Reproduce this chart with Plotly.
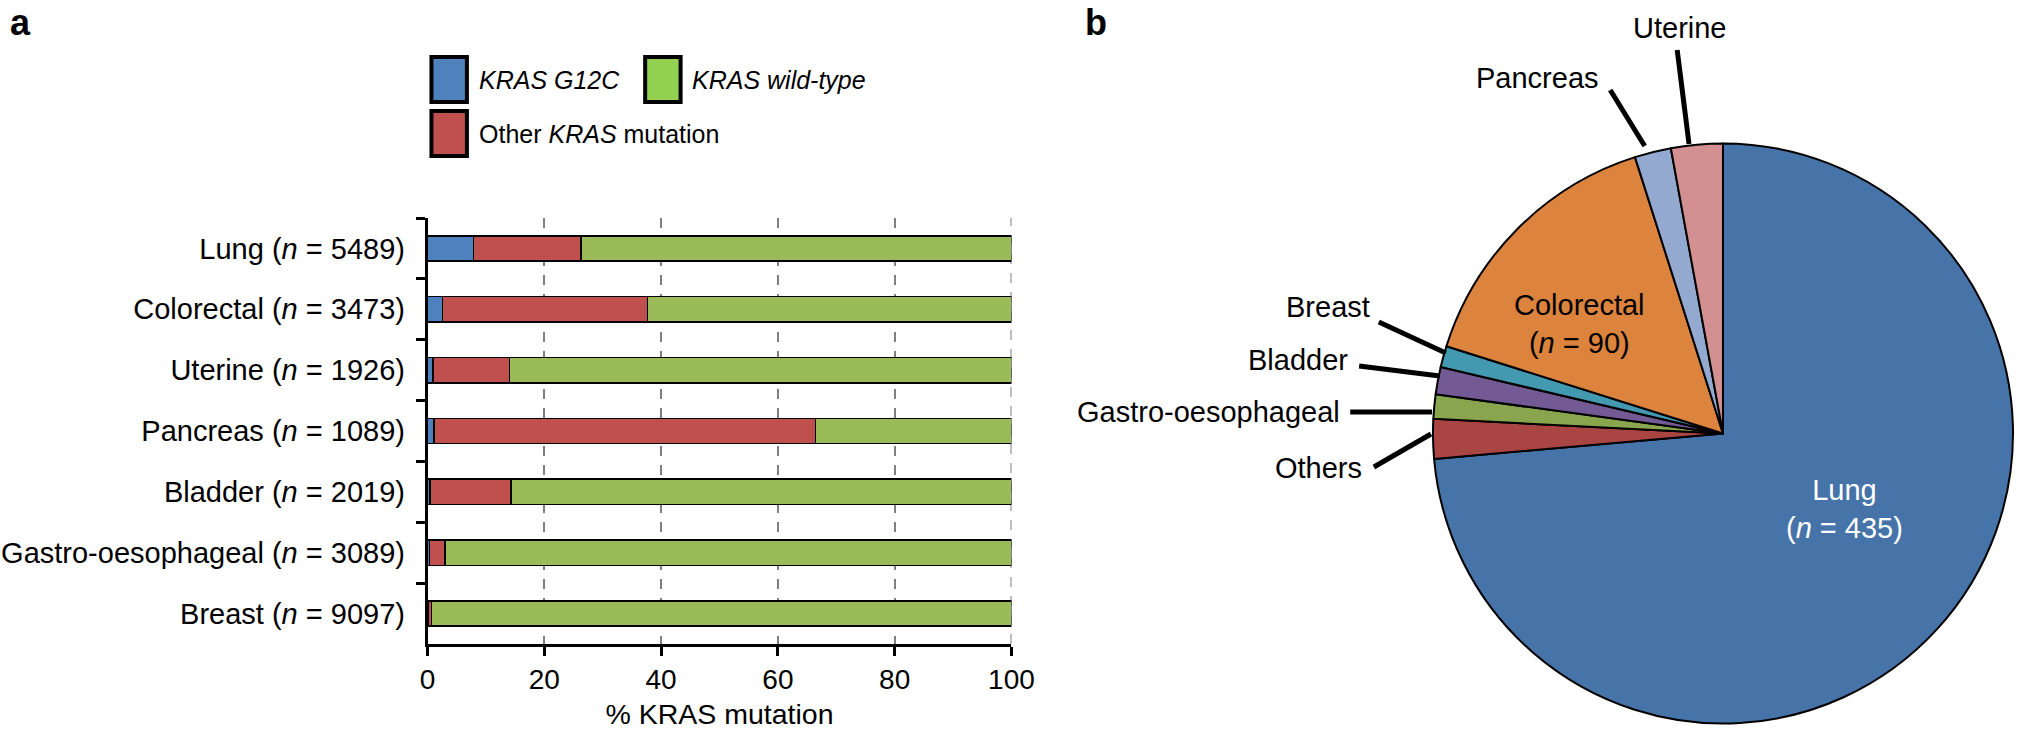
import plotly.graph_objects as go

# ---------------- data ----------------
cancers = ["Lung", "Colorectal", "Uterine", "Pancreas", "Bladder", "Gastro-oesophageal", "Breast"]
n_patients = [5489, 3473, 1926, 1089, 2019, 3089, 9097]
pct_g12c = [7.9, 2.6, 0.9, 1.1, 0.4, 0.3, 0.1]
pct_other = [18.4, 35.1, 13.1, 65.3, 13.9, 2.7, 0.6]
pct_wild = [73.7, 62.3, 86.0, 33.6, 85.7, 97.0, 99.3]
x_ticks = [0, 20, 40, 60, 80, 100]

pie_labels = ["Lung", "Others", "Gastro-oesophageal", "Bladder", "Breast", "Colorectal", "Pancreas", "Uterine"]
pie_counts = [435, 13, 8, 9, 7, 90, 12, 17]

# ---------------- styling ----------------
W, H = 2036, 730
FONT = "Liberation Sans, Arial, Helvetica, sans-serif"
bar_colors = {"g12c": "#4f81bd", "other": "#c0504d", "wild": "#9bbb59"}
legend_colors = {"g12c": "#4f81bd", "other": "#c0504d", "wild": "#92d050"}
pie_colors = ["#4673a8", "#a94543", "#89a54e", "#735a94", "#4299b0", "#dc843d", "#94a9d0", "#d39090"]
GRID_COLOR = "#808080"
GRID_DASH = "10px,9px"


def px(x):
    return x / W


def py(y):
    return 1 - y / H


cat_labels = [f"{c} (<i>n</i> = {n})" for c, n in zip(cancers, n_patients)]

fig = go.Figure()
for key, vals, name in [("g12c", pct_g12c, "KRAS G12C"),
                        ("other", pct_other, "Other KRAS mutation"),
                        ("wild", pct_wild, "KRAS wild-type")]:
    fig.add_trace(go.Bar(
        y=cat_labels, x=vals, orientation="h", name=name,
        marker=dict(color=bar_colors[key], line=dict(color="black", width=1.5)),
        showlegend=False, xaxis="x", yaxis="y",
    ))

fig.add_trace(go.Pie(
    labels=pie_labels, values=pie_counts, sort=False, direction="clockwise", rotation=0,
    marker=dict(colors=pie_colors, line=dict(color="black", width=2)),
    textinfo="none", hoverinfo="label+value", showlegend=False,
    domain=dict(x=[px(1447), px(2036)], y=[py(728), py(139)]),
))

shapes = []
annotations = []

# gridline at the right end of the value axis (Plotly omits it at the edge)
shapes.append(dict(type="line", xref="x", yref="y domain", x0=x_ticks[-1], x1=x_ticks[-1],
                   y0=0, y1=1, layer="below",
                   line=dict(color=GRID_COLOR, width=2, dash=GRID_DASH)))

# legend (manual, large boxes)
legend_items = [
    ("g12c", 428, 55, "<i>KRAS G12C</i>"),
    ("wild", 645, 55, "<i>KRAS wild-type</i>"),
    ("other", 428, 109, "Other <i>KRAS</i> mutation"),
]
for key, x0, y0, txt in legend_items:
    shapes.append(dict(type="rect", xref="paper", yref="paper",
                       x0=px(x0 + 2), x1=px(x0 + 38), y0=py(y0 + 2), y1=py(y0 + 47),
                       fillcolor=legend_colors[key], line=dict(color="black", width=4)))
    annotations.append(dict(xref="paper", yref="paper", x=px(x0 + 48), y=py(y0 + 25),
                            text=txt, showarrow=False, xanchor="left", yanchor="middle",
                            font=dict(size=25, color="black", family=FONT)))

# panel letters
annotations.append(dict(xref="paper", yref="paper", x=px(0), y=py(0), text="<b>a</b>",
                        showarrow=False, xanchor="left", yanchor="top",
                        font=dict(size=36, color="black", family=FONT)))
annotations.append(dict(xref="paper", yref="paper", x=px(1092), y=py(0), text="<b>b</b>",
                        showarrow=False, xanchor="left", yanchor="top",
                        font=dict(size=36, color="black", family=FONT)))

# pie outside labels with leader lines
pie_out = [
    ("Uterine", 1698, 28, "center", (1695, 50), (1707, 144)),
    ("Pancreas", 1618, 78, "right", (1627, 90), (1662, 146)),
    ("Breast", 1385, 307, "right", (1392, 322), (1460, 353)),
    ("Bladder", 1363, 360, "right", (1372, 366), (1454, 376)),
    ("Gastro-oesophageal", 1355, 412, "right", (1363, 412), (1446, 412)),
    ("Others", 1377, 468, "right", (1387, 467), (1445, 434)),
]
for name, lx, ly, anchor, p0, p1 in pie_out:
    annotations.append(dict(xref="paper", yref="paper", x=px(lx), y=py(ly), text=name,
                            showarrow=False, xanchor=anchor, yanchor="middle",
                            font=dict(size=29, color="black", family=FONT)))
    shapes.append(dict(type="line", xref="paper", yref="paper",
                       x0=px(p0[0]), y0=py(p0[1]), x1=px(p1[0]), y1=py(p1[1]),
                       line=dict(color="black", width=5)))

# pie inside labels
annotations.append(dict(xref="paper", yref="paper", x=px(1596), y=py(324),
                        text=f"{pie_labels[5]}<br>(<i>n</i> = {pie_counts[5]})",
                        showarrow=False, xanchor="center", yanchor="middle",
                        font=dict(size=29, color="black", family=FONT)))
annotations.append(dict(xref="paper", yref="paper", x=px(1865), y=py(509),
                        text=f"{pie_labels[0]}<br>(<i>n</i> = {pie_counts[0]})",
                        showarrow=False, xanchor="center", yanchor="middle",
                        font=dict(size=29, color="white", family=FONT)))

fig.update_layout(
    width=W, height=H, margin=dict(l=0, r=0, t=0, b=0),
    paper_bgcolor="white", plot_bgcolor="white",
    barmode="stack", bargap=0.585,
    font=dict(family=FONT, color="black", size=28),
    xaxis=dict(domain=[px(426), px(1019)], range=[0, 100], tickvals=x_ticks,
               ticks="outside", ticklen=9, tickwidth=2.5, tickcolor="black",
               showline=True, linewidth=2.5, linecolor="black", zeroline=False,
               showgrid=True, gridcolor=GRID_COLOR, gridwidth=2, griddash=GRID_DASH,
               tickfont=dict(size=28, family=FONT, color="black"),
               title=dict(text="% KRAS mutation", font=dict(size=28.5, family=FONT, color="black"),
                          standoff=10),
               fixedrange=True),
    yaxis=dict(domain=[py(644), py(218)], autorange="reversed", type="category",
               tickson="boundaries", ticks="outside", ticklen=9, tickwidth=2.5, tickcolor="black",
               showline=True, linewidth=2.5, linecolor="black", showgrid=False,
               tickfont=dict(size=29, family=FONT, color="black"),
               ticklabelstandoff=14, fixedrange=True),
    shapes=shapes, annotations=annotations,
)

fig.write_html(
    "out.html",
    config={"displayModeBar": False},
    post_script="document.body.style.margin='0';document.body.style.overflow='hidden';",
)
